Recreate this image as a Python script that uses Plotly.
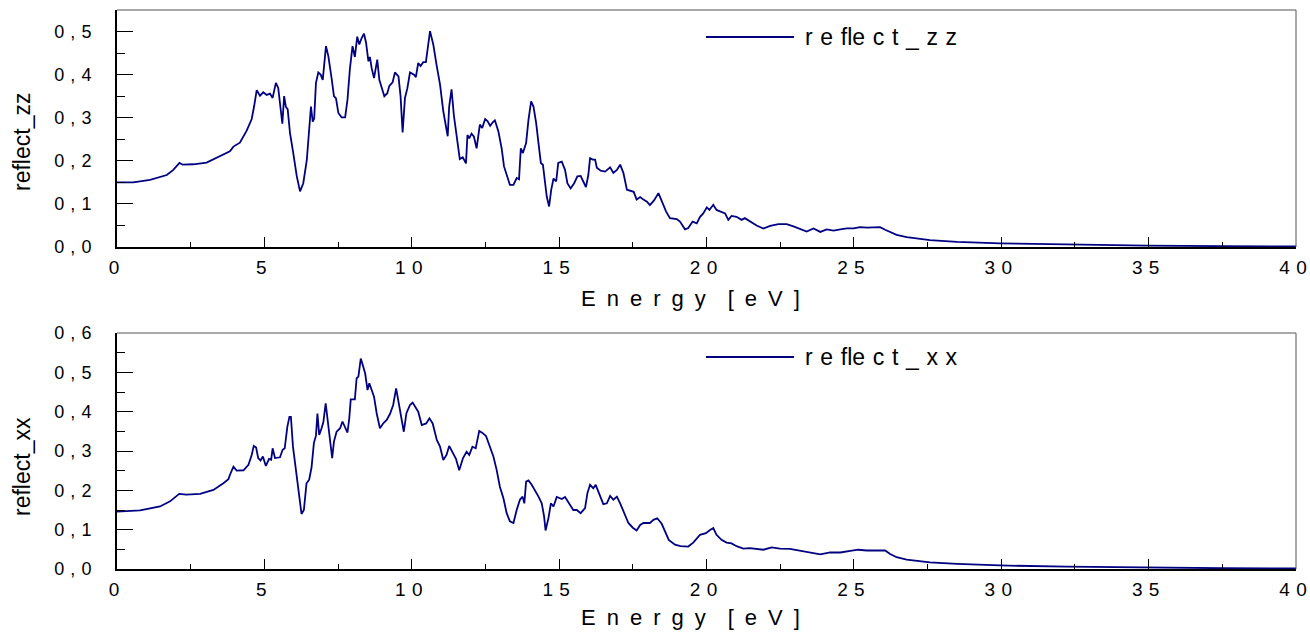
import plotly.graph_objects as go

# ---------------- data ----------------
energy_zz = [0, 0.55, 1.12, 1.69, 1.91, 2.12, 2.23, 2.59, 3.04, 3.49, 3.83, 3.95, 4.17, 4.40, 4.57, 4.65, 4.74,
             4.85, 4.96, 5.08, 5.19, 5.28, 5.39, 5.47, 5.55, 5.61, 5.67, 5.73, 5.79, 5.87, 5.98, 6.10, 6.21,
             6.32, 6.44, 6.52, 6.58, 6.64, 6.69, 6.75, 6.83, 6.91, 6.98, 7.09, 7.17, 7.28, 7.36, 7.43, 7.51,
             7.62, 7.74, 7.82, 7.90, 7.99, 8.07, 8.15, 8.22, 8.30, 8.38, 8.45, 8.53, 8.58, 8.64, 8.72, 8.83,
             8.90, 9.01, 9.07, 9.17, 9.24, 9.35, 9.43, 9.55, 9.62, 9.69, 9.77, 9.85, 9.94, 10.08, 10.14,
             10.22, 10.30, 10.39, 10.48, 10.62, 10.73, 10.84, 10.96, 11.07, 11.16, 11.22, 11.27, 11.35,
             11.43, 11.52, 11.63, 11.73, 11.84, 11.89, 11.95, 12.03, 12.11, 12.20, 12.31, 12.39, 12.49,
             12.57, 12.66, 12.74, 12.82, 12.94, 13.05, 13.13, 13.24, 13.33, 13.45, 13.56, 13.64, 13.70,
             13.77, 13.88, 13.96, 14.05, 14.13, 14.22, 14.30, 14.38, 14.45, 14.52, 14.58, 14.66, 14.73,
             14.81, 14.90, 14.97, 15.09, 15.20, 15.28, 15.39, 15.51, 15.62, 15.73, 15.82, 15.91, 15.99,
             16.05, 16.14, 16.22, 16.28, 16.41, 16.56, 16.73, 16.84, 16.96, 17.07, 17.18, 17.30, 17.41,
             17.53, 17.63, 17.75, 17.86, 17.98, 18.08, 18.22, 18.37, 18.48, 18.63, 18.76, 18.99, 19.10,
             19.27, 19.38, 19.53, 19.67, 19.78, 19.89, 20.01, 20.10, 20.23, 20.34, 20.46, 20.63, 20.74,
             20.85, 21.02, 21.19, 21.30, 21.47, 21.70, 21.93, 22.16, 22.44, 22.72, 22.95, 23.17, 23.40,
             23.63, 23.86, 24.08, 24.31, 24.54, 24.76, 24.99, 25.21, 25.44, 25.67, 25.89, 26.06, 26.23,
             26.45, 26.79, 27.24, 27.58, 28.5, 29.96, 32.2, 34.93, 37.5, 40]
reflect_zz = [0.150, 0.150, 0.156, 0.167, 0.179, 0.195, 0.191, 0.192, 0.196, 0.210, 0.222, 0.233, 0.242, 0.270,
              0.297, 0.326, 0.364, 0.351, 0.359, 0.353, 0.356, 0.346, 0.381, 0.369, 0.326, 0.286, 0.350, 0.325,
              0.320, 0.264, 0.218, 0.164, 0.129, 0.148, 0.202, 0.272, 0.326, 0.291, 0.298, 0.381, 0.405, 0.400,
              0.388, 0.466, 0.443, 0.392, 0.350, 0.345, 0.311, 0.301, 0.301, 0.342, 0.412, 0.466, 0.441, 0.488,
              0.470, 0.485, 0.495, 0.474, 0.431, 0.441, 0.415, 0.392, 0.435, 0.388, 0.365, 0.350, 0.357, 0.374,
              0.382, 0.405, 0.396, 0.350, 0.266, 0.346, 0.368, 0.405, 0.400, 0.394, 0.427, 0.420, 0.429, 0.429,
              0.501, 0.470, 0.423, 0.377, 0.315, 0.280, 0.257, 0.326, 0.366, 0.305, 0.260, 0.204, 0.208, 0.194,
              0.260, 0.252, 0.263, 0.256, 0.229, 0.284, 0.276, 0.297, 0.292, 0.281, 0.289, 0.294, 0.268, 0.229,
              0.187, 0.164, 0.144, 0.144, 0.160, 0.157, 0.229, 0.218, 0.241, 0.295, 0.338, 0.326, 0.288, 0.241,
              0.195, 0.191, 0.156, 0.117, 0.094, 0.132, 0.159, 0.152, 0.195, 0.198, 0.179, 0.148, 0.136, 0.148,
              0.164, 0.165, 0.152, 0.139, 0.167, 0.206, 0.203, 0.203, 0.184, 0.177, 0.175, 0.185, 0.172, 0.179,
              0.191, 0.172, 0.133, 0.130, 0.128, 0.110, 0.116, 0.110, 0.105, 0.097, 0.108, 0.125, 0.105, 0.082,
              0.067, 0.065, 0.059, 0.041, 0.044, 0.059, 0.055, 0.070, 0.078, 0.092, 0.086, 0.098, 0.086, 0.082,
              0.078, 0.063, 0.072, 0.070, 0.063, 0.067, 0.059, 0.050, 0.043, 0.049, 0.053, 0.053, 0.048, 0.043,
              0.036, 0.043, 0.035, 0.041, 0.038, 0.041, 0.043, 0.043, 0.046, 0.045, 0.045, 0.046, 0.040, 0.035,
              0.028, 0.023, 0.019, 0.016, 0.012, 0.0085, 0.006, 0.003, 0.002, 0.0015]

energy_xx = [0, 0.78, 1.46, 1.80, 2.11, 2.35, 2.82, 3.27, 3.61, 3.78, 3.83, 3.95, 4.06, 4.29, 4.46, 4.57, 4.64,
             4.72, 4.79, 4.87, 4.95, 5.05, 5.16, 5.23, 5.28, 5.36, 5.53, 5.62, 5.69, 5.78, 5.85, 5.90, 5.97,
             6.08, 6.19, 6.26, 6.34, 6.43, 6.52, 6.60, 6.68, 6.75, 6.80, 6.86, 6.94, 7.00, 7.08, 7.17, 7.25,
             7.30, 7.36, 7.45, 7.57, 7.65, 7.74, 7.82, 7.88, 7.93, 8.07, 8.13, 8.19, 8.27, 8.34, 8.42, 8.50,
             8.56, 8.64, 8.72, 8.81, 8.92, 9.03, 9.15, 9.26, 9.37, 9.47, 9.54, 9.62, 9.73, 9.82, 9.94, 10.03,
             10.11, 10.22, 10.34, 10.49, 10.60, 10.71, 10.85, 10.96, 11.07, 11.18, 11.27, 11.38, 11.50,
             11.61, 11.74, 11.86, 11.95, 12.06, 12.17, 12.29, 12.40, 12.52, 12.66, 12.77, 12.88, 12.99,
             13.11, 13.22, 13.33, 13.45, 13.56, 13.67, 13.76, 13.82, 13.88, 13.96, 14.07, 14.18, 14.30,
             14.41, 14.49, 14.54, 14.64, 14.72, 14.81, 14.92, 15.09, 15.20, 15.32, 15.48, 15.60, 15.73,
             15.88, 15.96, 16.05, 16.16, 16.24, 16.36, 16.50, 16.62, 16.73, 16.84, 16.96, 17.07, 17.21,
             17.35, 17.50, 17.63, 17.75, 17.86, 17.98, 18.08, 18.20, 18.33, 18.48, 18.59, 18.72, 18.93,
             19.12, 19.38, 19.55, 19.78, 19.98, 20.12, 20.23, 20.34, 20.51, 20.68, 20.85, 21.02, 21.25,
             21.47, 21.70, 21.93, 22.21, 22.49, 22.83, 23.17, 23.51, 23.86, 24.20, 24.54, 24.88, 25.15,
             25.44, 25.78, 26.06, 26.23, 26.45, 26.79, 27.24, 27.58, 28.5, 29.96, 32.2, 34.93, 37.5, 40]
reflect_xx = [0.146, 0.149, 0.159, 0.172, 0.191, 0.189, 0.191, 0.201, 0.218, 0.228, 0.239, 0.260, 0.250, 0.251,
              0.265, 0.290, 0.313, 0.309, 0.282, 0.276, 0.286, 0.262, 0.280, 0.278, 0.307, 0.282, 0.284, 0.303,
              0.307, 0.362, 0.387, 0.387, 0.311, 0.240, 0.172, 0.140, 0.150, 0.218, 0.227, 0.258, 0.320, 0.339,
              0.395, 0.341, 0.358, 0.373, 0.421, 0.356, 0.314, 0.282, 0.324, 0.349, 0.358, 0.375, 0.358, 0.347,
              0.383, 0.431, 0.431, 0.485, 0.489, 0.535, 0.518, 0.497, 0.455, 0.472, 0.455, 0.438, 0.396, 0.358,
              0.370, 0.379, 0.394, 0.417, 0.459, 0.431, 0.400, 0.349, 0.396, 0.417, 0.423, 0.413, 0.400, 0.366,
              0.370, 0.383, 0.370, 0.328, 0.311, 0.277, 0.290, 0.313, 0.295, 0.280, 0.251, 0.282, 0.298, 0.290,
              0.311, 0.307, 0.351, 0.346, 0.338, 0.311, 0.286, 0.252, 0.209, 0.180, 0.142, 0.121, 0.117, 0.150,
              0.176, 0.184, 0.167, 0.222, 0.225, 0.214, 0.201, 0.184, 0.167, 0.134, 0.098, 0.130, 0.167, 0.159,
              0.183, 0.178, 0.183, 0.169, 0.150, 0.150, 0.142, 0.155, 0.193, 0.214, 0.205, 0.214, 0.189, 0.165,
              0.167, 0.186, 0.176, 0.184, 0.167, 0.142, 0.117, 0.105, 0.098, 0.112, 0.117, 0.117, 0.117, 0.125,
              0.129, 0.115, 0.096, 0.074, 0.062, 0.058, 0.057, 0.067, 0.087, 0.091, 0.099, 0.104, 0.087, 0.074,
              0.067, 0.065, 0.058, 0.052, 0.053, 0.051, 0.049, 0.055, 0.052, 0.051, 0.046, 0.042, 0.037, 0.042,
              0.042, 0.046, 0.049, 0.047, 0.047, 0.047, 0.038, 0.030, 0.024, 0.019, 0.017, 0.013, 0.009, 0.006,
              0.003, 0.002, 0.0015]

EN = "\u2002"   # en space (wide letter gaps in the original labels)
TP = "\u2004"   # three-per-em space
x_tick_vals = [0, 5, 10, 15, 20, 25, 30, 35, 40]
x_tick_text = ["0", "5", "1" + TP + "0", "1" + TP + "5", "2" + TP + "0", "2" + TP + "5",
               "3" + TP + "0", "3" + TP + "5", "4" + TP + "0"]
y_tick_vals_zz = [0.0, 0.1, 0.2, 0.3, 0.4, 0.5]
y_tick_text_zz = ["0" + TP + "," + TP + d for d in "012345"]
y_tick_vals_xx = [0.0, 0.1, 0.2, 0.3, 0.4, 0.5, 0.6]
y_tick_text_xx = ["0" + TP + "," + TP + d for d in "0123456"]
x_title = EN.join("Energy") + EN + EN + EN.join("[eV]")
legend_zz = TP.join(["r", "e", "fle", "c", "t", "_", "z", "z"])
legend_xx = TP.join(["r", "e", "fle", "c", "t", "_", "x", "x"])

# ---------------- figure ----------------
W, H = 1310, 633
LINE = "#000080"
FONT = "Liberation Sans, Arial, sans-serif"

fig = go.Figure()
fig.add_trace(go.Scatter(x=energy_zz, y=reflect_zz, mode="lines", name="reflect_zz",
                         line=dict(color=LINE, width=1.8), xaxis="x", yaxis="y", showlegend=False))
fig.add_trace(go.Scatter(x=energy_xx, y=reflect_xx, mode="lines", name="reflect_xx",
                         line=dict(color=LINE, width=1.8), xaxis="x2", yaxis="y2", showlegend=False))

xl, xr = 117 / W, 1296 / W
top_dom = [(H - 247) / H, (H - 10) / H]
bot_dom = [(H - 569) / H, (H - 333) / H]

def xaxis(anchor):
    return dict(domain=[xl, xr], range=[0, 40], anchor=anchor, automargin=False,
                tickmode="array", tickvals=x_tick_vals, ticktext=x_tick_text, ticklabeloverflow="allow",
                ticklabelshift=-3,
                ticks="inside", ticklen=10, tickwidth=1, tickcolor="black",
                minor=dict(dtick=2.5, ticks="inside", ticklen=5, tickwidth=1, tickcolor="black"),
                showline=True, linecolor="black", linewidth=2, showgrid=False, zeroline=False,
                tickfont=dict(family=FONT, size=19, color="black"), ticklabelstandoff=2)

def yaxis(anchor, dom, rng, vals, text):
    return dict(domain=dom, range=rng, anchor=anchor, automargin=False,
                tickmode="array", tickvals=vals, ticktext=text, ticklabeloverflow="allow",
                ticks="inside", ticklen=16, tickwidth=1, tickcolor="black",
                minor=dict(dtick=0.05, ticks="inside", ticklen=8, tickwidth=1, tickcolor="black"),
                showline=True, linecolor="black", linewidth=2, showgrid=False, zeroline=False,
                tickfont=dict(family=FONT, size=18, color="black"), ticklabelstandoff=20)

fig.update_layout(
    width=W, height=H, margin=dict(l=0, r=0, t=0, b=0, autoexpand=False),
    paper_bgcolor="white", plot_bgcolor="white",
    xaxis=xaxis("y"), yaxis=yaxis("x", top_dom, [0, 0.55], y_tick_vals_zz, y_tick_text_zz),
    xaxis2=xaxis("y2"), yaxis2=yaxis("x2", bot_dom, [0, 0.6], y_tick_vals_xx, y_tick_text_xx),
    showlegend=False,
)

# frame top/right borders
for xa, ya in (("x", "y"), ("x2", "y2")):
    fig.add_shape(type="line", xref=f"{xa} domain", yref=f"{ya} domain", x0=0, x1=1, y0=1, y1=1,
                  line=dict(color="#555555", width=1))
    fig.add_shape(type="line", xref=f"{xa} domain", yref=f"{ya} domain", x0=1, x1=1, y0=0, y1=1,
                  line=dict(color="#555555", width=1))

# legends (long sample line + spaced label)
for ypix, label in ((37, legend_zz), (357, legend_xx)):
    yp = (H - ypix) / H
    fig.add_shape(type="line", xref="paper", yref="paper", x0=706 / W, x1=794 / W, y0=yp, y1=yp,
                  line=dict(color=LINE, width=1.8))
    fig.add_annotation(xref="paper", yref="paper", x=803 / W, y=yp, xanchor="left", yanchor="middle",
                       text=label, showarrow=False, font=dict(family=FONT, size=23, color="black"))

# axis titles
for ypix in (298, 617):
    fig.add_annotation(xref="paper", yref="paper", x=690 / W, y=(H - ypix) / H, xanchor="center",
                       yanchor="middle", text=x_title, showarrow=False,
                       font=dict(family=FONT, size=22, color="black"))
for ypix, t in ((142, "reflect_zz"), (467, "reflect_xx")):
    fig.add_annotation(xref="paper", yref="paper", x=22 / W, y=(H - ypix) / H, xanchor="center",
                       yanchor="middle", text=t, textangle=-90, showarrow=False,
                       font=dict(family=FONT, size=23, color="black"))

fig.write_html("out.html")
